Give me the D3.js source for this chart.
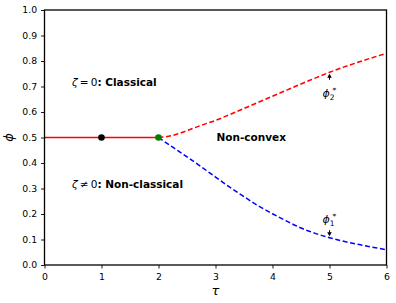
<!DOCTYPE html>
<html><head><meta charset="utf-8">
<script src="https://cdn.jsdelivr.net/npm/d3@7"></script>
<style>body{margin:0;background:#fff}text{font-family:"DejaVu Sans",sans-serif}</style>
</head><body><svg id="c" width="396" height="303"></svg>
<script>
const xTicks = [0,1,2,3,4,5,6];
const yTicks = [0,0.1,0.2,0.3,0.4,0.5,0.6,0.7,0.8,0.9,1.0];
const solidX = [0,2];
const solidY = [0.5,0.5];
const tau = [2,2.25,2.5,2.75,3,3.25,3.5,3.75,4,4.25,4.5,4.75,5,5.25,5.5,5.75,6];
const phi2 = [0.5,0.508,0.527,0.548,0.567,0.59,0.614,0.638,0.662,0.686,0.71,0.733,0.756,0.776,0.795,0.813,0.83];
const phi1 = [0.5,0.462,0.424,0.385,0.345,0.305,0.268,0.232,0.201,0.172,0.145,0.124,0.107,0.093,0.081,0.070,0.060];
const dots = [{x:1,y:0.5,c:"#000000"},{x:2,y:0.5,c:"#008000"}];

const svg = d3.select("#c");
const m = {l:44.5,r:9.5,t:10,b:38};
const W = 396, H = 303;
const x = d3.scaleLinear().domain([0,6]).range([m.l, W-m.r]);
const y = d3.scaleLinear().domain([0,1]).range([H-m.b, m.t]);

const gx = svg.append("g").attr("transform",`translate(0,${H-m.b})`)
  .call(d3.axisBottom(x).tickValues(xTicks).tickFormat(d3.format("d")).tickSizeOuter(0).tickSize(3.5));
const gy = svg.append("g").attr("transform",`translate(${m.l},0)`)
  .call(d3.axisLeft(y).tickValues(yTicks).tickFormat(d3.format(".1f")).tickSizeOuter(0).tickSize(3.5));
[gx,gy].forEach(g=>{g.select(".domain").remove();g.selectAll("line").attr("stroke","#000").attr("stroke-width",0.9);
  g.selectAll("text").attr("font-size","9.3px").attr("fill","#000").attr("font-family","DejaVu Sans");});
gx.selectAll("text").attr("dy","0.95em");
gy.selectAll("text").attr("dx","-0.1em");

const line = d3.line().x(d=>x(d[0])).y(d=>y(d[1])).curve(d3.curveMonotoneX);
svg.append("path").attr("d",line(solidX.map((v,i)=>[v,solidY[i]]))).attr("stroke","#ff0000").attr("stroke-width",1.5).attr("fill","none");
svg.append("path").attr("d",line(tau.map((v,i)=>[v,phi2[i]]))).attr("stroke","#ff0000").attr("stroke-width",1.5).attr("fill","none").attr("stroke-dasharray","5,2.6");
svg.append("path").attr("d",line(tau.map((v,i)=>[v,phi1[i]]))).attr("stroke","#0000ff").attr("stroke-width",1.5).attr("fill","none").attr("stroke-dasharray","5,2.6");
svg.selectAll("circle.d").data(dots).enter().append("circle").attr("cx",d=>x(d.x)).attr("cy",d=>y(d.y)).attr("r",3.3).attr("fill",d=>d.c);

svg.append("rect").attr("x",m.l).attr("y",m.t).attr("width",W-m.l-m.r).attr("height",H-m.t-m.b).attr("fill","none").attr("stroke","#000").attr("stroke-width",1.3);

function lab(xp,yp,math,rest){
  const t = svg.append("text").attr("x",xp).attr("y",yp).attr("font-size","10.5px");
  t.append("tspan").attr("font-style","italic").text(math[0]);
  t.append("tspan").text(math[1]);
  t.append("tspan").attr("font-weight","bold").text(rest);
}
lab(x(0.5)-1,86,["ζ","\u2009=\u20090"],": Classical");
lab(x(0.5)-1,188,["ζ","\u2009≠\u20090"],": Non-classical");
svg.append("text").attr("x",216.5).attr("y",140.5).attr("font-size","10.5px").attr("font-weight","bold").text("Non-convex");

// annotations
function ann(xv,yv,ly,dir,sub){
  const px = x(xv), py = y(yv);
  const t = svg.append("text").attr("x",px-7).attr("y",ly).attr("font-size","11px").attr("font-style","italic");
  t.append("tspan").text("ϕ");
  t.append("tspan").attr("font-size","7.5px").attr("font-style","normal").attr("dy",3).text(sub);
  t.append("tspan").attr("font-size","7.5px").attr("font-style","normal").attr("dy",-7.5).attr("dx",-2).text("*");
  const tip = py + (dir<0? 1.5 : -1.5);
  const start = py + (dir<0? 7.5 : -7.5);
  svg.append("line").attr("x1",px).attr("x2",px).attr("y1",start).attr("y2",tip+ (dir<0?2:-2)).attr("stroke","#000").attr("stroke-width",1);
  svg.append("path").attr("d",`M${px},${tip} L${px-2.3},${tip-dir*-1*0+ (dir<0?4:-4)} L${px+2.3},${tip+(dir<0?4:-4)} Z`).attr("fill","#000");
}
ann(5,0.756,97,-1,"2");
ann(5,0.107,223,1,"1");

svg.append("text").attr("x",x(3)).attr("y",295).attr("text-anchor","middle").attr("font-size","13px").attr("font-style","italic").text("τ");
svg.append("text").attr("transform",`translate(13,${y(0.5)}) rotate(-90)`).attr("text-anchor","middle").attr("font-size","13px").attr("font-style","italic").text("ϕ");
</script></body></html>
